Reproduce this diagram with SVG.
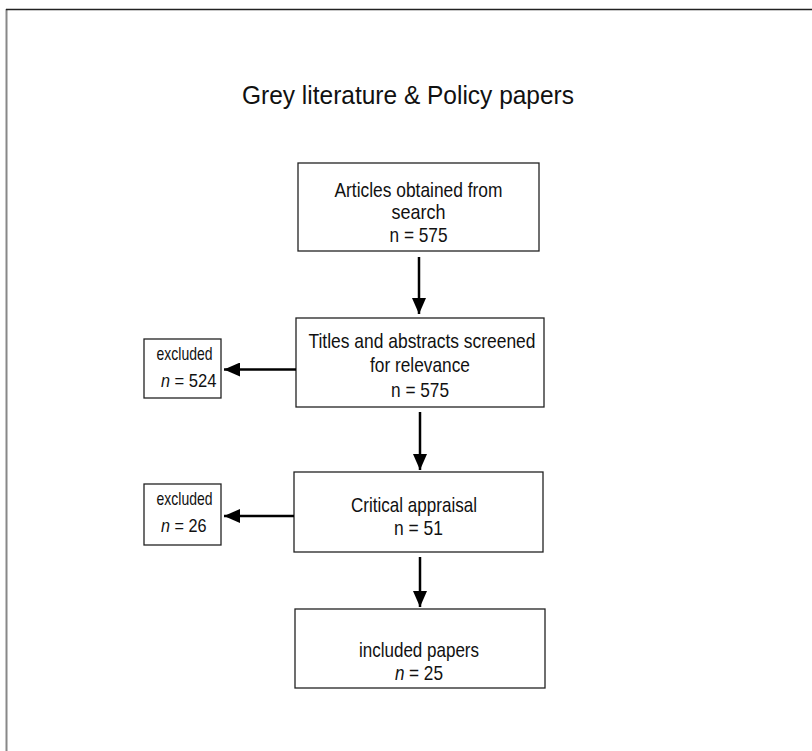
<svg xmlns="http://www.w3.org/2000/svg" width="812" height="751" viewBox="0 0 812 751">
  <defs>
    <marker id="arrowBig" viewBox="0 0 16 14" refX="16" refY="7" markerWidth="16" markerHeight="14" markerUnits="userSpaceOnUse" orient="auto">
      <path d="M0,0 L16,7 L0,14 Z" fill="#000"/>
    </marker>
  </defs>
  <style>
    .box { fill: #fff; stroke: #222; stroke-width: 1.3; }
    .txt { font-family: "Liberation Sans", Arial, sans-serif; font-size: 21px; fill: #111; text-anchor: middle; }
    .small { font-size: 19px; }
    .lft { text-anchor: start; }
    .it { font-style: italic; }
    .title { font-family: "Liberation Sans", Arial, sans-serif; font-size: 25px; fill: #111; text-anchor: middle; }
    .conn { stroke: #000; stroke-width: 2.5; fill: none; marker-end: url(#arrowBig); }
  </style>

  <rect width="812" height="751" fill="#fff"/>
  <!-- page frame (top and left edges) -->
  <line x1="6.5" y1="9" x2="6.5" y2="751" stroke="#888" stroke-width="2"/>
  <line x1="6" y1="9.5" x2="812" y2="9.5" stroke="#222" stroke-width="1.5"/>

  <text class="title" x="408" y="104" textLength="332" lengthAdjust="spacingAndGlyphs">Grey literature &amp; Policy papers</text>

  <g id="search">
    <rect class="box" x="298" y="163" width="241" height="88"/>
    <text class="txt" x="418.5" y="197" textLength="168" lengthAdjust="spacingAndGlyphs">Articles obtained from</text>
    <text class="txt" x="418.5" y="219" textLength="54" lengthAdjust="spacingAndGlyphs">search</text>
    <text class="txt" x="418.5" y="242" textLength="58" lengthAdjust="spacingAndGlyphs">n = 575</text>
  </g>

  <g id="screened">
    <rect class="box" x="296" y="318" width="248" height="89"/>
    <text class="txt" x="422" y="348" textLength="227" lengthAdjust="spacingAndGlyphs">Titles and abstracts screened</text>
    <text class="txt" x="420" y="372" textLength="100" lengthAdjust="spacingAndGlyphs">for relevance</text>
    <text class="txt" x="420" y="396.5" textLength="58" lengthAdjust="spacingAndGlyphs">n = 575</text>
  </g>

  <g id="excluded1">
    <rect class="box" x="144" y="339" width="77" height="59"/>
    <text class="txt small" x="184.5" y="360" textLength="56" lengthAdjust="spacingAndGlyphs">excluded</text>
    <text class="txt small lft it" x="161" y="387" textLength="9" lengthAdjust="spacingAndGlyphs">n</text>
    <text class="txt small lft" x="174.5" y="387" textLength="42" lengthAdjust="spacingAndGlyphs">= 524</text>
  </g>

  <g id="appraisal">
    <rect class="box" x="294" y="472" width="249" height="80"/>
    <text class="txt" x="414" y="511.5" textLength="126" lengthAdjust="spacingAndGlyphs">Critical appraisal</text>
    <text class="txt" x="418.5" y="535" textLength="49" lengthAdjust="spacingAndGlyphs">n = 51</text>
  </g>

  <g id="excluded2">
    <rect class="box" x="144" y="484" width="77" height="61"/>
    <text class="txt small" x="184.5" y="505" textLength="56" lengthAdjust="spacingAndGlyphs">excluded</text>
    <text class="txt small lft it" x="161" y="532" textLength="9" lengthAdjust="spacingAndGlyphs">n</text>
    <text class="txt small lft" x="174.5" y="532" textLength="32" lengthAdjust="spacingAndGlyphs">= 26</text>
  </g>

  <g id="included">
    <rect class="box" x="295" y="609" width="250" height="79"/>
    <text class="txt" x="419" y="656.5" textLength="120" lengthAdjust="spacingAndGlyphs">included papers</text>
    <text class="txt lft it" x="395" y="680" textLength="9.5" lengthAdjust="spacingAndGlyphs">n</text>
    <text class="txt lft" x="409" y="680" textLength="34" lengthAdjust="spacingAndGlyphs">= 25</text>
  </g>

  <g id="connectors">
    <line class="conn" x1="419" y1="257" x2="419" y2="314"/>
    <line class="conn" x1="420" y1="412" x2="420" y2="470"/>
    <line class="conn" x1="420" y1="557" x2="420" y2="607"/>
    <line class="conn" x1="296" y1="369.5" x2="224" y2="369.5"/>
    <line class="conn" x1="294" y1="516" x2="224" y2="516"/>
  </g>
</svg>
